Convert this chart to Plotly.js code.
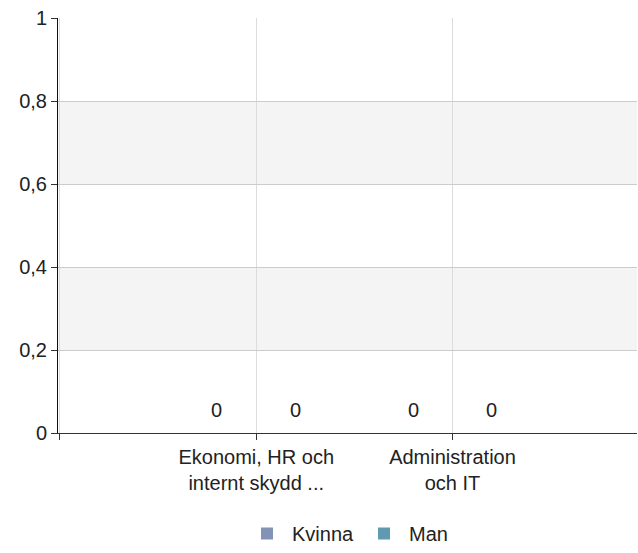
<!DOCTYPE html>
<html>
<head>
<meta charset="utf-8">
<script src="https://cdn.plot.ly/plotly-3.0.1.min.js"></script>
<style>html,body{margin:0;padding:0;background:#fff;}#chart{width:638px;height:553px;}</style>
</head>
<body>
<div id="chart"></div>
<script>
const categories = ["Ekonomi, HR och<br>internt skydd ...", "Administration<br>och IT"];
const kvinnaValues = [0, 0];
const manValues = [0, 0];
const seriesNames = ["Kvinna", "Man"];
const seriesColors = ["#8393B5", "#5F9AB0"];
const yTicks = [0, 0.2, 0.4, 0.6, 0.8, 1];
const bandRanges = [[0.2, 0.4], [0.6, 0.8]];

const font = {family: "Liberation Sans, Arial, sans-serif", size: 20, color: "#222"};

const W = 638, H = 553;
const margin = {l: 58, r: 1, t: 18, b: 119};
const xRange = [-0.01, 2.94];
const bargap = 0.2;

function barTrace(name, vals, color) {
  return {
    type: "bar", name: name, x: categories, y: vals,
    marker: {color: color},
    cliponaxis: false, hoverinfo: "skip"
  };
}

const series = [kvinnaValues, manValues];
const data = series.map((vals, i) => barTrace(seriesNames[i], vals, seriesColors[i]));

// value labels placed over each bar through the axis scales
const plotW = W - margin.l - margin.r;
const unitPx = plotW / (xRange[1] - xRange[0]);
const barW = (1 - bargap) / series.length;
const annotations = [];
series.forEach((vals, s) => {
  const offsetPx = ((s - (series.length - 1) / 2) * barW) * unitPx;
  vals.forEach((v, c) => {
    annotations.push({
      xref: "x", yref: "y", x: categories[c], y: v,
      text: String(v).replace(".", ","), showarrow: false,
      xshift: offsetPx, yanchor: "bottom", yshift: 10,
      font: {family: font.family, size: 20, color: "#222"}
    });
  });
});

const shapes = bandRanges.map(r => ({
  type: "rect", xref: "paper", yref: "y", x0: 0, x1: 1, y0: r[0], y1: r[1],
  fillcolor: "#f4f4f4", line: {width: 0}, layer: "below"
}));

const plotH = H - margin.t - margin.b;

const layout = {
  width: W, height: H,
  margin: margin,
  paper_bgcolor: "#fff", plot_bgcolor: "#fff",
  separators: ", ",
  font: font,
  showlegend: true,
  legend: {orientation: "h", x: 0.5, xanchor: "center", y: -margin.b / plotH, yanchor: "bottom",
           font: {size: 20, color: "#222"}, itemwidth: 40, tracegroupgap: 0},
  barmode: "group", bargap: bargap, bargroupgap: 0,
  xaxis: {
    type: "category",
    categoryorder: "array", categoryarray: [" "].concat(categories),
    range: xRange,
    showgrid: true, gridcolor: "#dcdcdc", gridwidth: 1,
    showline: true, linecolor: "#333", linewidth: 1,
    ticks: "outside", ticklen: 6, tickcolor: "#333",
    tickfont: {size: 20, color: "#222"},
    zeroline: false, fixedrange: true
  },
  yaxis: {
    range: [0, 1],
    tickvals: yTicks,
    showgrid: true, gridcolor: "#cccccc", gridwidth: 1,
    showline: true, linecolor: "#111", linewidth: 1,
    ticks: "outside", ticklen: 6, tickcolor: "#333",
    tickfont: {size: 20, color: "#222"},
    zeroline: false, fixedrange: true
  },
  shapes: shapes,
  annotations: annotations
};

Plotly.newPlot("chart", data, layout, {displayModeBar: false, staticPlot: true});
</script>
</body>
</html>
